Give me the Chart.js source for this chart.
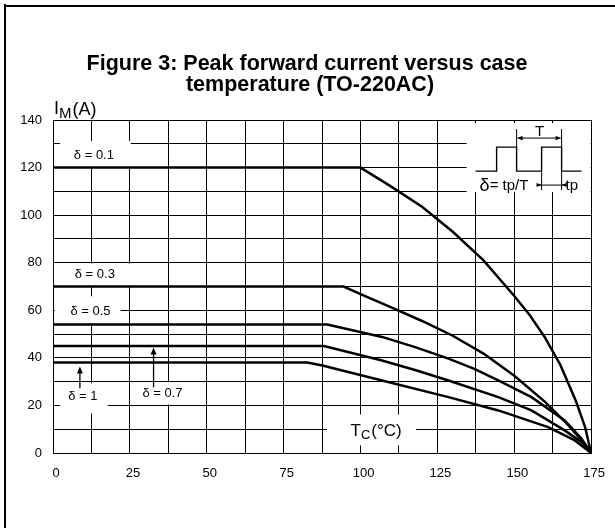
<!DOCTYPE html>
<html>
<head>
<meta charset="utf-8">
<script src="https://cdn.jsdelivr.net/npm/chart.js@4.4.1/dist/chart.umd.min.js"></script>
<style>
html,body{margin:0;padding:0;background:#fff;}
#wrap{width:615px;height:528px;position:relative;}
</style>
</head>
<body>
<div id="wrap"><canvas id="c" width="615" height="528"></canvas></div>
<script>
// ---- data ----
const tempsD01 = [0, 100, 110, 120, 130, 140, 150, 155, 160, 165, 170, 173, 175];
const currD01  = [120, 120, 112, 103.5, 93, 81, 66, 58, 48.5, 37, 22, 11, 0];
const tempsD03 = [0, 94.5, 100, 110, 120, 130, 140, 150, 160, 167, 172, 175];
const currD03  = [70, 70, 66.8, 61.2, 55.5, 49.3, 41.8, 32.5, 21.5, 12.5, 5.2, 0];
const tempsD05 = [0, 89.2, 107, 118, 128.6, 137, 144.8, 155.6, 166.4, 171.9, 175];
const currD05  = [54, 54, 48.8, 44.4, 39.7, 35.4, 30.5, 23.5, 13.7, 6, 0];
const tempsD07 = [0, 88.1, 107, 118, 128.6, 144.8, 155.6, 166.4, 171.9, 175];
const currD07  = [45, 45, 38.9, 34.8, 30.5, 23.5, 17.9, 9.5, 4.5, 0];
const tempsD1  = [0, 82.7, 87.6, 107, 128.6, 144.8, 161, 169.7, 175];
const currD1   = [38, 38, 36.8, 30.5, 23.5, 17.9, 10.9, 5.3, 0];
const dutyNames = ['δ = 0.1', 'δ = 0.3', 'δ = 0.5', 'δ = 0.7', 'δ = 1'];
const xTickLabels = [0, 25, 50, 75, 100, 125, 150, 175];
const yTickLabels = [0, 20, 40, 60, 80, 100, 120, 140];
const titleLines = ['Figure 3: Peak forward current versus case', 'temperature (TO-220AC)'];

const FONT = '"Liberation Sans", Arial, Helvetica, sans-serif';

function pts(xs, ys){ return xs.map((t,i)=>({x:t, y:ys[i]})); }

// label layout (data units): text centre and white box [x1,yTop,x2,yBottom]
const labelLayout = [
  {name:0, cx:13.3, cy:125.3, box:[2.3,131.2,25.3,120.2]},
  {name:1, cx:13.6, cy:75.2,  box:[0.3,79.6,25.3,70.4]},
  {name:2, cx:12.2, cy:59.6,  box:[0.6,65.9,22.0,54.6]},
  {name:3, cx:35.6, cy:25.0,  box:[25.3,29.7,46.7,20.4]},
  {name:4, cx:9.7,  cy:23.8,  box:[2.3,29.3,17.8,16.6]}
];
const arrowLayout = [ {x:8.75, y0:27.2, y1:36.4}, {x:32.7, y0:27.6, y1:44.4} ];

function arrowHead(ctx, x, y, dx, dy, len, half){
  ctx.beginPath();
  ctx.moveTo(x, y);
  ctx.lineTo(x - dx*len - dy*half, y - dy*len + dx*half);
  ctx.lineTo(x - dx*len + dy*half, y - dy*len - dx*half);
  ctx.closePath();
  ctx.fill();
}

const deco = {
  id: 'deco',
  beforeDraw(chart){
    const ctx = chart.ctx;
    ctx.save();
    ctx.fillStyle = '#fff';
    ctx.fillRect(0,0,chart.width,chart.height);
    ctx.fillStyle = '#000';
    ctx.fillRect(4,5,chart.width-4,2);
    ctx.fillRect(4,4,2,chart.height-4);
    ctx.restore();
  },
  beforeDatasetsDraw(chart){
    const ctx = chart.ctx, xs = chart.scales.x, ys = chart.scales.y;
    const X = v => xs.getPixelForValue(v), Y = v => ys.getPixelForValue(v);
    ctx.save();
    ctx.fillStyle = '#fff';
    labelLayout.forEach(l=>{
      const b = l.box;
      ctx.fillRect(X(b[0]), Y(b[1]), X(b[2])-X(b[0]), Y(b[3])-Y(b[1]));
    });
    ctx.fillRect(X(89.1), Y(16.2), X(118)-X(89.1), Y(3.2)-Y(16.2));
    const ax = X(134.5), ay = Y(138.7);
    ctx.fillRect(ax, ay, X(174.8)-ax, Y(109.7)-ay);

    ctx.fillStyle = '#000';
    ctx.textAlign = 'center';
    ctx.textBaseline = 'middle';
    ctx.font = '13px ' + FONT;
    labelLayout.forEach(l=>{
      ctx.fillText(dutyNames[l.name], X(l.cx), Y(l.cy));
    });
    ctx.strokeStyle = '#000';
    ctx.lineWidth = 1.3;
    arrowLayout.forEach(a=>{
      const x = X(a.x), y0 = Y(a.y0), y1 = Y(a.y1);
      ctx.beginPath(); ctx.moveTo(x, y0); ctx.lineTo(x, y1+5); ctx.stroke();
      arrowHead(ctx, x, y1, 0, -1, 7, 3);
    });
    const tx = X(104.9) - 25, ty = Y(9.1);
    ctx.textAlign = 'left';
    ctx.font = '17px ' + FONT;
    ctx.fillText('T', tx, ty);
    let w = ctx.measureText('T').width;
    ctx.font = '13px ' + FONT;
    ctx.fillText('C', tx + w, ty + 4);
    w += ctx.measureText('C').width + 1;
    ctx.font = '17px ' + FONT;
    ctx.fillText('(°C)', tx + w, ty);

    // inset waveform (pixel offsets from inset anchor)
    ctx.lineWidth = 1.4;
    ctx.beginPath();
    const wave = [[9,48],[30,48],[30,24],[50,24],[50,48],[75,48],[75,24],[95,24],[95,48],[115,48]];
    wave.forEach((p,i)=>{ i ? ctx.lineTo(ax+p[0], ay+p[1]) : ctx.moveTo(ax+p[0], ay+p[1]); });
    ctx.stroke();
    ctx.lineWidth = 1;
    ctx.beginPath();
    ctx.moveTo(ax+50, ay+6); ctx.lineTo(ax+50, ay+24);
    ctx.moveTo(ax+95, ay+6); ctx.lineTo(ax+95, ay+24);
    ctx.moveTo(ax+75, ay+48); ctx.lineTo(ax+75, ay+67);
    ctx.moveTo(ax+95, ay+48); ctx.lineTo(ax+95, ay+67);
    ctx.moveTo(ax+53, ay+15); ctx.lineTo(ax+92, ay+15);
    ctx.moveTo(ax+70, ay+62); ctx.lineTo(ax+99, ay+62);
    ctx.stroke();
    arrowHead(ctx, ax+50, ay+15, -1, 0, 6, 2.2);
    arrowHead(ctx, ax+95, ay+15, 1, 0, 6, 2.2);
    arrowHead(ctx, ax+75, ay+62, 1, 0, 5, 2);
    arrowHead(ctx, ax+95, ay+62, -1, 0, 5, 2);
    ctx.textAlign = 'center';
    ctx.font = '15px ' + FONT;
    ctx.fillText('T', ax+73, ay+9);
    ctx.textAlign = 'left';
    ctx.font = '18px ' + FONT;
    ctx.fillText('δ', ax+13, ay+63);
    let dw = ctx.measureText('δ').width;
    ctx.font = '15px ' + FONT;
    ctx.fillText('= tp/T', ax+13+dw, ay+63);
    ctx.fillText('tp', ax+99, ay+63);
    ctx.restore();
  },
  afterDraw(chart){
    const ctx = chart.ctx;
    ctx.save();
    ctx.fillStyle = '#000';
    ctx.textAlign = 'center';
    ctx.textBaseline = 'middle';
    ctx.font = 'bold 21.5px ' + FONT;
    ctx.fillText(titleLines[0], 307, 64);
    ctx.fillText(titleLines[1], 310, 85);
    ctx.textAlign = 'left';
    ctx.textBaseline = 'alphabetic';
    ctx.font = '18px ' + FONT;
    ctx.fillText('I', 54, 114);
    let w = ctx.measureText('I').width;
    ctx.font = '15px ' + FONT;
    ctx.fillText('M', 54 + w, 118);
    w += ctx.measureText('M').width + 1;
    ctx.font = '18px ' + FONT;
    ctx.fillText('(A)', 54 + w, 115);
    ctx.restore();
  }
};

const ds = (xs, ys, name) => ({ label: name, data: pts(xs, ys), borderColor:'#000', borderWidth:2.5, pointRadius:0, fill:false, tension:0 });

new Chart(document.getElementById('c'), {
  type: 'line',
  data: {
    datasets: [
      ds(tempsD01, currD01, dutyNames[0]),
      ds(tempsD03, currD03, dutyNames[1]),
      ds(tempsD05, currD05, dutyNames[2]),
      ds(tempsD07, currD07, dutyNames[3]),
      ds(tempsD1, currD1, dutyNames[4])
    ]
  },
  options: {
    responsive: false,
    animation: false,
    devicePixelRatio: 1,
    layout: { padding: { left: 0, right: 22, top: 120, bottom: 0 } },
    plugins: { legend: { display: false }, title: { display: false }, tooltip: { enabled: false } },
    scales: {
      x: {
        type: 'linear', min: 0, max: 175,
        afterFit(s){ s.height = 75; },
        grid: { color: '#000', lineWidth: 1, drawTicks: false },
        border: { color: '#000', width: 1 },
        ticks: {
          stepSize: 12.5, autoSkip: false, maxRotation: 0, padding: 13, labelOffset: 3,
          color: '#000', font: { family: FONT, size: 13 },
          callback: v => xTickLabels.includes(v) ? String(v) : ''
        }
      },
      y: {
        type: 'linear', min: 0, max: 140,
        afterFit(s){ s.width = 53; },
        grid: { color: '#000', lineWidth: 1, drawTicks: false },
        border: { color: '#000', width: 1 },
        ticks: {
          stepSize: 10, autoSkip: false, padding: 11,
          color: '#000', font: { family: FONT, size: 13 },
          callback: v => yTickLabels.includes(v) ? String(v) : ''
        }
      }
    }
  },
  plugins: [deco]
});
</script>
</body>
</html>
